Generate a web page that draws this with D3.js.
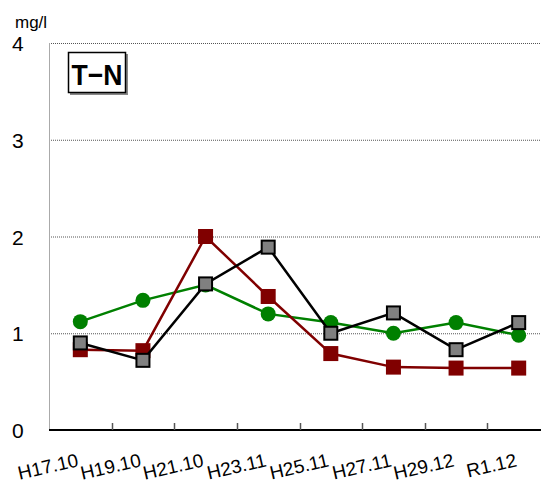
<!DOCTYPE html>
<html><head><meta charset="utf-8">
<script src="https://cdn.jsdelivr.net/npm/d3@7"></script>
<style>body{margin:0;background:#fff}svg{display:block}</style>
</head><body>
<svg id="c" width="541" height="482"></svg>
<script>
const categories = ["H17.10","H19.10","H21.10","H23.11","H25.11","H27.11","H29.12","R1.12"];
const greenSeries = [1.12,1.34,1.50,1.20,1.11,1.00,1.11,0.98];
const redSeries   = [0.83,0.82,2.00,1.38,0.79,0.65,0.64,0.64];
const greySeries  = [0.90,0.72,1.51,1.89,1.00,1.21,0.83,1.11];
const yTicks = [0,1,2,3,4];
const unitLabel = "mg/l";
const titleText = "T\u2212N";

const svg = d3.select("#c");
const L = 49, R = 550, T = 43, B = 430;
const x = d3.scaleBand().domain(categories).range([L, R]);
const y = d3.scaleLinear().domain([0,4]).range([B, T]);
const cx = d => x(d) + x.bandwidth()/2;
const font = "Liberation Sans, Arial, sans-serif";

// gridlines
svg.append("g").selectAll("line").data(yTicks.filter(v=>v>0)).join("line")
  .attr("x1", L).attr("x2", 541).attr("y1", d=>y(d)+0.5).attr("y2", d=>y(d)+0.5)
  .attr("stroke","#555").attr("stroke-width",1).attr("stroke-dasharray","1,1");
// left axis line
svg.append("line").attr("x1",L+0.5).attr("x2",L+0.5).attr("y1",T).attr("y2",B)
  .attr("stroke","#aaa").attr("stroke-width",1);
// y labels
svg.append("g").selectAll("text").data(yTicks).join("text")
  .attr("x", 12).attr("y", d=>y(d)+8)
  .attr("font-family",font).attr("font-size",21)
  .text(d=>d);
svg.append("text").attr("x",15).attr("y",28)
  .attr("font-family",font).attr("font-size",17)
  .text(unitLabel);

// bottom axis
svg.append("line").attr("x1",L).attr("x2",541).attr("y1",B).attr("y2",B)
  .attr("stroke","#000").attr("stroke-width",2);
svg.append("g").selectAll("line").data(categories.slice(1)).join("line")
  .attr("x1", d=>Math.round(x(d))+0.5).attr("x2", d=>Math.round(x(d))+0.5)
  .attr("y1", B-7).attr("y2", B)
  .attr("stroke","#555").attr("stroke-width",1.5);
svg.append("g").selectAll("text").data(categories).join("text")
  .attr("transform", d=>`translate(${cx(d)-1},466) rotate(-13)`)
  .attr("text-anchor","end")
  .attr("font-family",font).attr("font-size",19)
  .text(d=>d);

// title box
svg.append("rect").attr("x",70).attr("y",54).attr("width",58).attr("height",41).attr("fill","#888");
svg.append("rect").attr("x",68.5).attr("y",52.5).attr("width",57).attr("height",40)
  .attr("fill","#fff").attr("stroke","#000").attr("stroke-width",1.5);
svg.append("text").attr("x",97).attr("y",85).attr("text-anchor","middle")
  .attr("font-family",font).attr("font-weight","bold")
  .attr("font-size",29).attr("textLength",51).attr("lengthAdjust","spacingAndGlyphs")
  .text(titleText);

const line = d3.line().x((d,i)=>cx(categories[i])).y(d=>y(d));

// green
svg.append("path").datum(greenSeries).attr("d",line).attr("fill","none")
  .attr("stroke","#008000").attr("stroke-width",2.5);
svg.append("g").selectAll("circle").data(greenSeries).join("circle")
  .attr("cx",(d,i)=>cx(categories[i])).attr("cy",d=>y(d)).attr("r",7.5).attr("fill","#008000");
// red
svg.append("path").datum(redSeries).attr("d",line).attr("fill","none")
  .attr("stroke","#800000").attr("stroke-width",2.5);
svg.append("g").selectAll("rect").data(redSeries).join("rect")
  .attr("x",(d,i)=>cx(categories[i])-7.5).attr("y",d=>y(d)-7.5).attr("width",15).attr("height",15)
  .attr("fill","#800000");
// grey
svg.append("path").datum(greySeries).attr("d",line).attr("fill","none")
  .attr("stroke","#000").attr("stroke-width",2.5);
svg.append("g").selectAll("rect").data(greySeries).join("rect")
  .attr("x",(d,i)=>cx(categories[i])-6.5).attr("y",d=>y(d)-6.5).attr("width",13).attr("height",13)
  .attr("fill","#808080").attr("stroke","#000").attr("stroke-width",2);
</script>
</body></html>
